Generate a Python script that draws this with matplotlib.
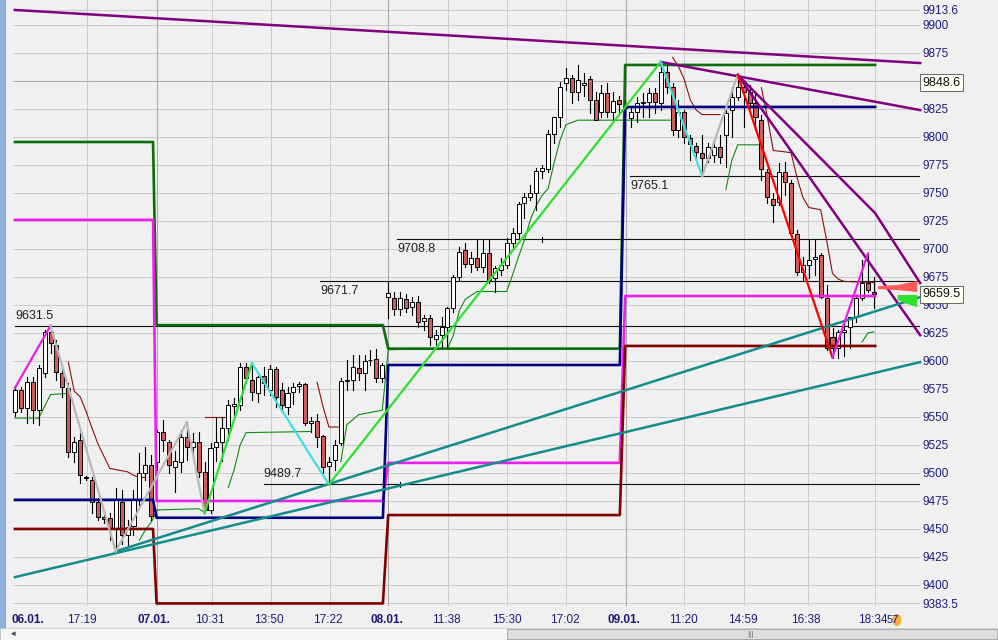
import matplotlib
matplotlib.use("Agg")
import matplotlib.pyplot as plt
from matplotlib.patches import Rectangle, Polygon, Ellipse
from matplotlib.transforms import offset_copy

plt.rcParams['font.family'] = ['Liberation Sans', 'DejaVu Sans']

# Candles (one per bar, index 0..145) ------------------------------------------

opens = [9554, 9574, 9558, 9581, 9556, 9589, 9626, 9614, 9589, 9576,
         9519, 9529, 9495.5, 9494, 9474, 9461, 9460, 9451, 9474, 9445,
         9453, 9477, 9500, 9507, 9510, 9537, 9528, 9505, 9510, 9532,
         9523, 9528, 9501, 9467, 9523, 9528, 9540, 9560, 9561, 9595,
         9583, 9571, 9587, 9574, 9593, 9574, 9559, 9572, 9578, 9579,
         9545, 9546, 9533, 9506, 9512, 9527, 9582, 9583, 9594, 9589,
         9601, 9602, 9585, 9657, 9656, 9646, 9655, 9648, 9653, 9636,
         9638, 9620, 9623, 9630, 9647, 9675, 9699, 9687, 9692, 9684,
         9696, 9674, 9681, 9686, 9705, 9714, 9741, 9746, 9750, 9770,
         9771, 9803, 9818, 9848, 9853, 9840, 9846, 9852, 9833, 9822,
         9839, 9822, 9833, 9826, 9817, 9822, 9830, 9831, 9839, 9830,
         9858, 9845, 9806, 9822, 9799, 9792, 9786, 9781, 9784, 9791,
         9802, 9824, 9836, 9845, 9840, 9830, 9815, 9769, 9745, 9742,
         9769, 9759, 9713, 9679, 9686, 9691, 9695, 9656, 9621, 9612,
         9626, 9630, 9639, 9656, 9670, 9662]

highs = [9578, 9577, 9586, 9586, 9596, 9628, 9631.5, 9619, 9594, 9580,
         9532, 9536, 9497, 9496, 9478, 9467, 9464, 9487, 9485, 9458,
         9485, 9518, 9523, 9516, 9538, 9547, 9529, 9520, 9538, 9545,
         9536, 9537, 9510, 9527, 9550, 9550, 9565, 9567, 9598, 9598,
         9598, 9587, 9595, 9596, 9595, 9580, 9577, 9580, 9581, 9580,
         9550, 9553, 9534, 9514, 9529, 9585, 9601, 9605, 9605, 9605,
         9610, 9611, 9598, 9671.7, 9662, 9662, 9660, 9657, 9658, 9641,
         9641, 9628, 9639, 9648, 9677, 9702, 9705, 9697, 9708, 9708.8,
         9708, 9685, 9692, 9710, 9719, 9742, 9750, 9757, 9772, 9775,
         9806, 9818, 9849, 9862, 9855, 9864, 9857, 9854, 9840, 9846,
         9848, 9840, 9837, 9833, 9827, 9836, 9839, 9844, 9844, 9867,
         9863, 9848, 9833, 9824, 9802, 9795, 9802, 9795, 9797, 9802,
         9824, 9845, 9855.4, 9851, 9846, 9839, 9820, 9771, 9750, 9777,
         9778, 9762, 9717, 9693, 9708, 9708, 9696, 9668, 9629, 9628,
         9634, 9639, 9659, 9690, 9696, 9675]

lows = [9551, 9554, 9545, 9545, 9543, 9586, 9607, 9583, 9568, 9514,
        9510, 9491, 9494, 9464, 9458, 9455, 9440, 9430, 9437, 9434,
        9445, 9471, 9494, 9458, 9503, 9520, 9500, 9483, 9501, 9512,
        9514, 9496, 9464, 9464, 9511, 9511, 9529, 9552, 9556, 9580,
        9565, 9563, 9570, 9570, 9559, 9554, 9553, 9562, 9572, 9543,
        9537, 9523, 9500, 9489.7, 9503, 9525, 9574, 9574, 9583, 9574,
        9596, 9581, 9581, 9638, 9641, 9641, 9644, 9641, 9630, 9628,
        9614, 9612, 9612, 9612, 9644, 9671, 9684, 9679, 9681, 9679,
        9670, 9662, 9677, 9683, 9702, 9710, 9728, 9744, 9735, 9763,
        9769, 9795, 9809, 9842, 9830, 9833, 9837, 9821, 9815, 9818,
        9818, 9815, 9822, 9820, 9809, 9813, 9818, 9818, 9821, 9824,
        9839, 9802, 9800, 9795, 9779, 9779, 9765.1, 9778, 9778, 9777,
        9773, 9800, 9833, 9809, 9826, 9806, 9762, 9741, 9724, 9739,
        9748, 9712, 9677, 9672, 9674, 9677, 9656, 9610, 9603, 9603,
        9604, 9612, 9635, 9654, 9662, 9647]

closes = [9574, 9558, 9581, 9556, 9594, 9626, 9616, 9590, 9577, 9519,
          9528, 9498, 9496.5, 9474, 9461, 9459, 9451, 9476, 9445, 9452,
          9476, 9500, 9507, 9462, 9537, 9529, 9507, 9511, 9532, 9523,
          9528, 9501, 9467, 9522, 9528, 9540, 9561, 9562, 9595, 9585,
          9572, 9586, 9580, 9593, 9568, 9561, 9571, 9577, 9579, 9545,
          9546, 9532, 9505, 9510, 9525, 9582, 9583, 9595, 9589, 9600,
          9600.5, 9585, 9596, 9661, 9646, 9656, 9647, 9653, 9635, 9638,
          9621, 9623, 9630, 9647, 9675, 9697, 9687, 9692, 9684, 9696,
          9672, 9683, 9686, 9705, 9714, 9740, 9746, 9750, 9770, 9772,
          9803, 9818, 9845, 9853, 9840, 9851, 9848, 9833, 9815, 9839,
          9822, 9832, 9829, 9827, 9822, 9830, 9831, 9839, 9831, 9858,
          9845, 9806, 9822, 9800, 9794, 9787, 9781, 9791, 9791, 9782,
          9821, 9836, 9845, 9840, 9830, 9818, 9771, 9746, 9739, 9769,
          9760, 9714, 9679, 9686, 9690, 9693, 9657, 9612, 9612, 9626,
          9628, 9639, 9656, 9670, 9663, 9659.5]

# Axis labels -----------------------------------------------------------------

time_labels = ['06.01.', '17:19', '07.01.', '10:31', '13:50', '17:22', '08.01.',
               '11:38', '15:30', '17:02', '09.01.', '11:20', '14:59', '16:38',
               '18:34']
time_label_bars = [2.2, 11.3, 23.5, 32.9, 42.9, 52.8, 62.8, 72.8, 83.0, 92.8,
                   102.8, 112.8, 122.9, 133.5, 144.8]
grid_bars = [12.2, 24.0, 33.3, 43.2, 53.2, 63.0, 73.1, 83.1, 93.0, 103.1,
             112.9, 123.1, 133.9, 145.2]
day_bars = [24.0, 63.0, 103.1]

price_ticks = [9383.5] + list(range(9400, 9901, 25)) + [9913.6]
hidden_tick = 9850   # covered by the 9848.6 box

# Step lines (previous day levels) ---------------------------------------------

step_x = [0, 23.3, 23.9, 62.1, 63.0, 102.1, 103.0, 145.2]
step_green = [9795.5, 9795.5, 9632, 9632, 9611, 9611, 9864.3, 9864.3]
step_magenta = [9726, 9726, 9475, 9475, 9509, 9509, 9658, 9658]
step_navy = [9476, 9476, 9460, 9460, 9596.4, 9596.4, 9826.8, 9826.8]
step_maroon = [9450, 9450, 9383.5, 9383.5, 9462.4, 9462.4, 9613.4, 9613.4]

# Zigzag --------------------------------------------------------------------

zz_x = [0, 6, 17, 29, 32, 40, 53, 109, 116, 122, 138, 144]
zz_y = [9576, 9631.5, 9430, 9545, 9464, 9598, 9489.7, 9867, 9765.1, 9855.4, 9603, 9696]
zz_col = ['#e81ee8', '#b8b8b8', '#b8b8b8', '#b8b8b8', '#2ee02e', '#40e0e0',
          '#2ee02e', '#40e0e0', '#b8b8b8', '#ff0000', '#e81ee8']

# Trailing stop lines ----------------------------------------------------------

thin_red = [
    ([9, 10, 11, 12, 13, 14, 15, 16, 17, 18, 19, 20, 21, 22],
     [9599, 9573, 9568, 9555, 9540, 9526, 9515, 9504, 9503, 9502, 9501, 9498, 9496, 9496]),
    ([32, 36], [9550, 9550]),
    ([51, 52, 53, 55], [9581, 9559, 9541, 9541]),
    ([111, 112, 113, 114, 115, 116, 119], [9871, 9863, 9851, 9833, 9824, 9820, 9820]),
    ([126, 127, 128, 131, 132, 133, 134, 136, 137, 138, 139, 140, 145],
     [9844, 9818, 9788, 9786, 9764, 9746, 9737, 9735, 9708, 9678, 9673, 9671, 9670]),
]

thin_green = [
    ([0, 4, 6, 9], [9549, 9549, 9570, 9571]),
    ([21, 22, 23, 24, 31, 32], [9440, 9449, 9456, 9467, 9468, 9465]),
    ([36, 37, 38, 39, 50], [9487, 9503, 9525, 9536, 9537]),
    ([55, 56, 58, 62, 63, 73, 74, 75, 76, 78, 83, 84, 85, 86, 87, 88, 89, 90, 91,
      92, 93, 95, 111],
     [9510, 9543, 9552, 9556, 9610, 9611, 9623, 9645, 9655, 9662, 9662, 9677, 9693,
      9708, 9726, 9739, 9748, 9754, 9777, 9797, 9811, 9815, 9815]),
    ([120, 121, 122, 126], [9753, 9779, 9793, 9793]),
    ([143, 144, 145], [9617, 9625, 9626]),
]

# Trend lines ------------------------------------------------------------------

purple_lines = [
    ([0, 152.8], [9913.4, 9866]),
    ([109, 152.8], [9867, 9824]),
    ([122, 152.8], [9855.4, 9623]),
    ([122, 145.2, 152.8], [9855.4, 9732, 9669.6]),
]
teal_lines = [
    ([0, 152.8], [9407, 9599]),
    ([17, 152.8], [9430, 9657]),
]

# Horizontal levels ------------------------------------------------------------

level_values = [9631.5, 9489.7, 9671.7, 9708.8, 9765.1]
level_start = [0, 42, 51.5, 64.5, 103.8]
level_above = [True, True, False, False, False]

last_price = 9659.5
box_price = 9848.6


# Figure ----------------------------------------------------------------------

bg = '#f0f0f0'
fig = plt.figure(figsize=(9.98, 6.4), dpi=100, facecolor=bg)
ax = fig.add_axes([13 / 998, 34 / 640, 907 / 998, 606 / 640])
ax.set_facecolor(bg)
ax.set_xlim(-0.34, 152.77)
ax.set_ylim(9381.2, 9922.3)
for s in ax.spines.values():
    s.set_visible(False)

# grid
for p in price_ticks:
    ax.axhline(p, color='#a9a9a9' if p == 9850 else '#cdcdcd', lw=0.75, zorder=0.5)
for g in grid_bars:
    ax.axvline(g, color='#a9a9a9' if g in day_bars else '#cdcdcd', lw=0.75, zorder=0.5)

# level lines with labels
for val, start, above in zip(level_values, level_start, level_above):
    ax.plot([start, 153], [val, val], color='#101010', lw=0.8, zorder=1)
    ax.annotate('%.1f' % val, (start, val), xytext=(0, 3 if above else -3),
                textcoords='offset points', va='bottom' if above else 'top',
                ha='left', fontsize=9, color='#202020', zorder=1)

ax.plot([65, 65], [9487.5, 9492], color='#101010', lw=0.8)
ax.plot([89, 89], [9706, 9711], color='#101010', lw=0.8)

# thin stop lines
for xs, ys in thin_red:
    ax.plot(xs, ys, color='#8b1010', lw=0.8, zorder=2)
for xs, ys in thin_green:
    ax.plot(xs, ys, color='#108a10', lw=0.8, zorder=2)

# candles
for i in range(len(opens)):
    o, h, l, c = opens[i], highs[i], lows[i], closes[i]
    ax.plot([i, i], [l, h], color='black', lw=0.8, zorder=2.9)
    body = max(abs(c - o), 0.6)
    ax.bar(i, body, bottom=min(o, c), width=0.68,
           color='white' if c >= o else '#cd5c5c',
           edgecolor='black', linewidth=0.7, zorder=3)

# previous day step lines
ax.plot(step_x, step_green, color='#0b6e0b', lw=1.9, zorder=4)
ax.plot(step_x, step_magenta, color='#ec1eec', lw=1.9, zorder=4)
ax.plot(step_x, step_navy, color='#000080', lw=1.9, zorder=4)
ax.plot(step_x, step_maroon, color='#800000', lw=1.9, zorder=4)

# trend lines
for xs, ys in purple_lines:
    ax.plot(xs, ys, color='#800080', lw=1.8, zorder=4.5, clip_on=False)
for xs, ys in teal_lines:
    ax.plot(xs, ys, color='#148c8c', lw=1.8, zorder=4.5, clip_on=False)

# zigzag
for k in range(len(zz_col)):
    ax.plot(zz_x[k:k + 2], zz_y[k:k + 2], color=zz_col[k], lw=1.6, zorder=5)

# forecast flags
ax.add_patch(Polygon([(145.7, 9666.9), (149.0, 9667.8), (152.3, 9671.4),
                      (152.3, 9661.6), (149.0, 9663.3), (145.7, 9664.2)],
                     closed=True, facecolor='#ff5a5a', edgecolor='none', zorder=6))
ax.add_patch(Polygon([(149.0, 9658.9), (152.3, 9658.9), (152.3, 9648.1),
                      (150.3, 9651.5), (149.0, 9654.4)],
                     closed=True, facecolor='#2fe02f', edgecolor='none', zorder=6))

# axes ticks
ax.yaxis.tick_right()
ax.set_yticks(price_ticks)
ax.set_yticklabels(['' if p == hidden_tick else (('%.1f' % p) if p % 1 else str(int(p)))
                    for p in price_ticks])
ax.tick_params(axis='y', length=0, pad=2, labelsize=8.5, labelcolor='#1c1c78')
ax.set_xticks(time_label_bars)
ax.set_xticklabels(time_labels)
ax.tick_params(axis='x', length=0, pad=5.5, labelsize=8.5, labelcolor='#1c1c78')
for t in ax.get_xticklabels():
    if t.get_text().endswith('.'):
        t.set_fontweight('bold')

# price boxes with a drop shadow
ytr = ax.get_yaxis_transform()
shadow_tr = offset_copy(ytr, fig=fig, x=2, y=-2, units='dots')
for val in [box_price, last_price]:
    ax.add_patch(Rectangle((1.0008, val - 6.4), 0.0425, 12.8, transform=shadow_tr,
                           facecolor='#9a9a9a', edgecolor='none', clip_on=False,
                           zorder=9))
    ax.text(1.003, val, '%.1f' % val, transform=ytr, va='center', ha='left',
            fontsize=9, color='#101010', clip_on=False, zorder=10,
            bbox=dict(boxstyle='square,pad=0.18', fc='#fffff4', ec='#505050', lw=0.6))

# window bits: left border, scroll bar, marker
fig.add_artist(Rectangle((0, 0), 5 / 998, 1, transform=fig.transFigure,
                         facecolor='#8cb0dc', edgecolor='none'))
fig.add_artist(Rectangle((5 / 998, 0), 1 / 998, 1, transform=fig.transFigure,
                         facecolor='#a0a0a0', edgecolor='none'))
fig.add_artist(Rectangle((0, 0), 1, 12 / 640, transform=fig.transFigure,
                         facecolor='#f6f6f6', edgecolor='#c8c8c8', lw=0.5))
fig.add_artist(Rectangle((507 / 998, 1 / 640), 490 / 998, 10 / 640,
                         transform=fig.transFigure, facecolor='#dedede',
                         edgecolor='#a0a0a0', lw=0.6))
fig.text(750 / 998, 6 / 640, '|||', fontsize=6, color='#606060', ha='center', va='center')
fig.text(12 / 998, 6 / 640, '\u25c4', fontsize=6, color='#505050', ha='center', va='center')
fig.add_artist(Ellipse((897 / 998, 20 / 640), 9 / 998, 12 / 640,
                       transform=fig.transFigure, facecolor='#f5b03c', edgecolor='none'))
fig.text(893 / 998, 20 / 640, '57', fontsize=8, color='#1c1c78', ha='center', va='center')

fig.savefig('out.png', dpi=100, facecolor=bg)
